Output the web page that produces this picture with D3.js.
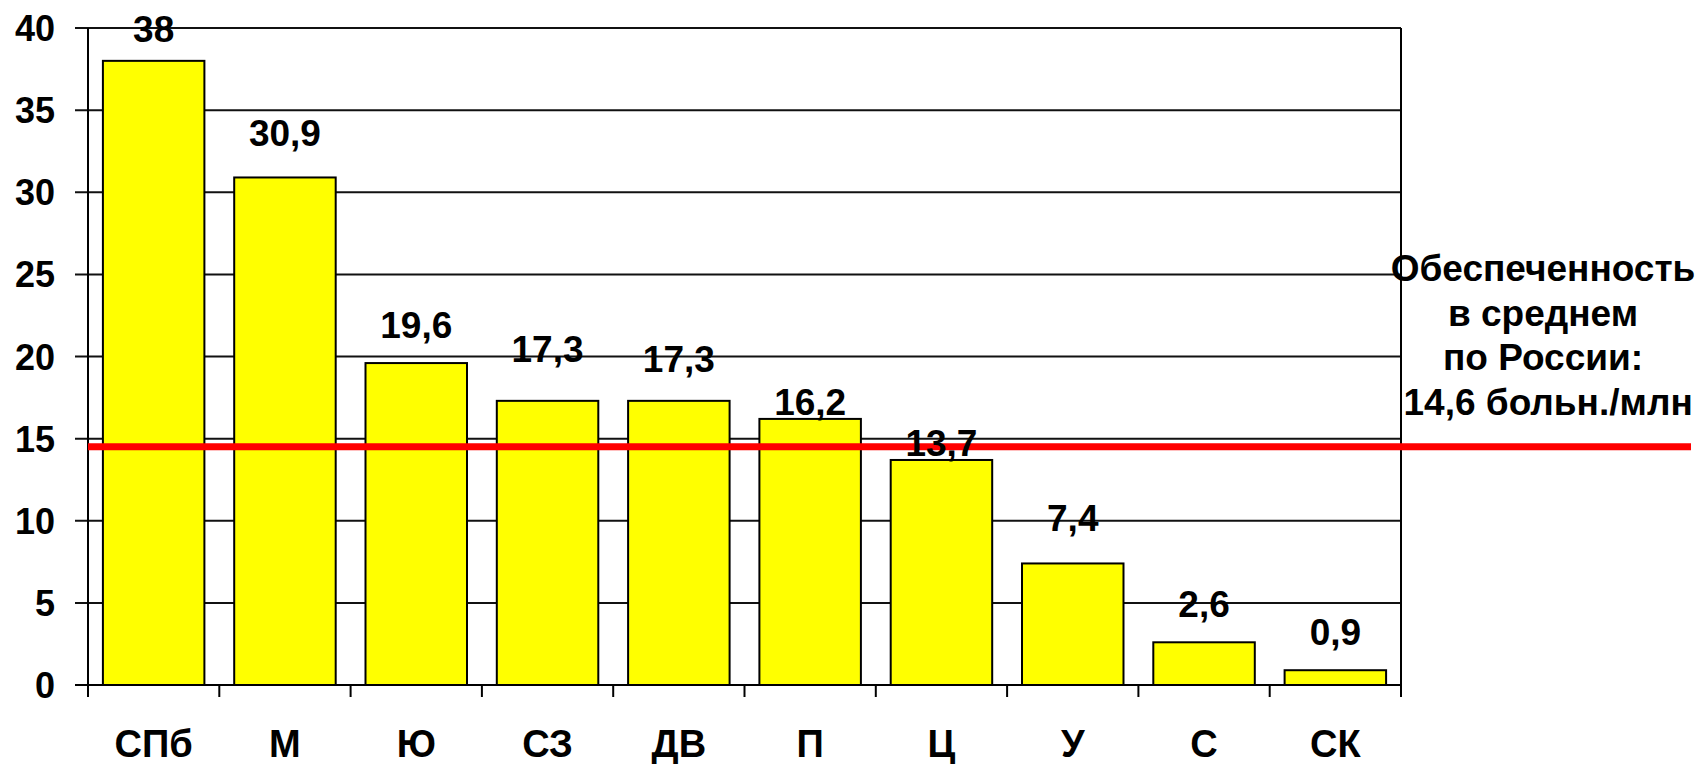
<!DOCTYPE html>
<html>
<head>
<meta charset="utf-8">
<script src="https://cdn.jsdelivr.net/npm/d3@7"></script>
<style>
  body { margin: 0; background: #fff; }
  svg text { font-family: Arial, "Liberation Sans", sans-serif; font-weight: bold; fill: #000; }
</style>
</head>
<body>
<svg class="chart" width="1700" height="764"></svg>
<script>
// данные
const regions = ["СПб", "М", "Ю", "СЗ", "ДВ", "П", "Ц", "У", "С", "СК"];
const values = [38, 30.9, 19.6, 17.3, 17.3, 16.2, 13.7, 7.4, 2.6, 0.9];
const yTicks = [0, 5, 10, 15, 20, 25, 30, 35, 40];
const avgValue = 14.5;
const avgLines = ["Обеспеченность", "в среднем", "по России:", " 14,6 больн./млн"];

// подписи сдвинуты вручную, как в оригинале (px над столбцом)
const labelGap = [19, 31, 25, 39, 29, 4, 4, 32, 25, 25];

const plotLeft = 88, plotRight = 1401, plotTop = 28, plotBottom = 685;

const svg = d3.select(".chart");

const x = d3.scaleBand().domain(regions).range([plotLeft, plotRight])
    .paddingInner(0.227).paddingOuter(0.1135);
const xEdge = d3.scaleBand().domain(regions).range([plotLeft, plotRight]).padding(0);
const y = d3.scaleLinear().domain([0, 40]).range([plotBottom, plotTop]);

// горизонтальные линии сетки
svg.append("g")
    .selectAll("line")
    .data(yTicks)
    .enter()
    .append("line")
    .attr("x1", plotLeft - 13)
    .attr("x2", plotRight)
    .attr("y1", d => y(d))
    .attr("y2", d => y(d))
    .attr("stroke", "#111")
    .attr("stroke-width", 2);

// ось Y, подписи
svg.append("g")
    .selectAll("text")
    .data(yTicks)
    .enter()
    .append("text")
    .attr("x", 55)
    .attr("y", d => y(d) + 13)
    .attr("text-anchor", "end")
    .style("font-size", "36px")
    .text(d => d);

// столбцы
svg.append("g")
    .selectAll("rect")
    .data(values)
    .enter()
    .append("rect")
    .attr("x", (d, i) => x(regions[i]))
    .attr("width", x.bandwidth())
    .attr("y", d => y(d))
    .attr("height", d => y(0) - y(d))
    .attr("fill", "#ffff00")
    .attr("stroke", "#000")
    .attr("stroke-width", 2);

// вертикальные линии: ось Y, правая граница, засечки
const edges = regions.map(r => xEdge(r)).concat([plotRight]);
svg.append("g")
    .selectAll("line")
    .data(edges)
    .enter()
    .append("line")
    .attr("x1", d => d)
    .attr("x2", d => d)
    .attr("y1", (d, i) => (i === 0 || i === edges.length - 1) ? plotTop : plotBottom)
    .attr("y2", plotBottom + 12)
    .attr("stroke", "#000")
    .attr("stroke-width", 2);

// ось X поверх столбцов
svg.append("line")
    .attr("x1", plotLeft - 13).attr("x2", plotRight)
    .attr("y1", y(0)).attr("y2", y(0))
    .attr("stroke", "#000").attr("stroke-width", 2);

// подписи категорий
svg.append("g")
    .selectAll("text")
    .data(regions)
    .enter()
    .append("text")
    .attr("x", d => x(d) + x.bandwidth() / 2)
    .attr("y", 757)
    .attr("text-anchor", "middle")
    .style("font-size", "38px")
    .text(d => d);

// средняя линия
svg.append("line")
    .attr("x1", plotLeft).attr("x2", 1691)
    .attr("y1", y(avgValue)).attr("y2", y(avgValue))
    .attr("stroke", "#ff0000").attr("stroke-width", 7);

// подписи значений
svg.append("g")
    .selectAll("text")
    .data(values)
    .enter()
    .append("text")
    .attr("x", (d, i) => x(regions[i]) + x.bandwidth() / 2)
    .attr("y", (d, i) => y(d) - labelGap[i])
    .attr("text-anchor", "middle")
    .style("font-size", "37px")
    .text(d => String(d).replace(".", ","));

// подпись средней
svg.append("text")
    .attr("x", 1543)
    .attr("y", 281)
    .attr("text-anchor", "middle")
    .style("font-size", "37px")
    .style("white-space", "pre")
    .selectAll("tspan")
    .data(avgLines)
    .enter()
    .append("tspan")
    .attr("x", 1543)
    .attr("dy", (d, i) => i === 0 ? 0 : 44.7)
    .text(d => d);
</script>
</body>
</html>
